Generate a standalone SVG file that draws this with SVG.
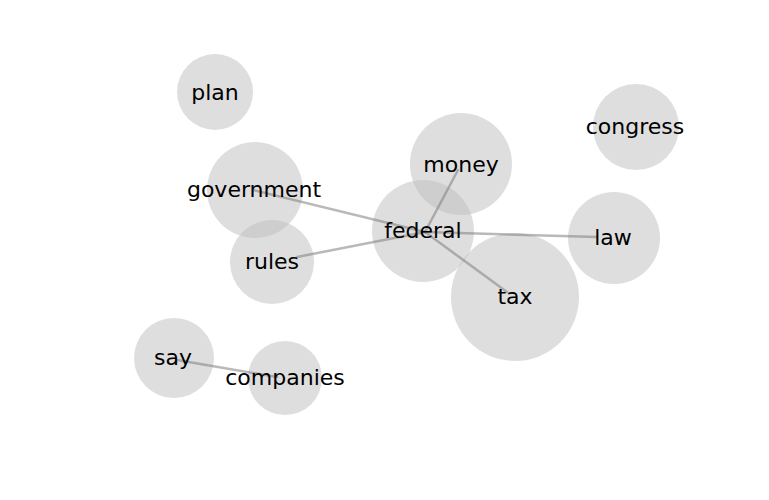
<svg xmlns="http://www.w3.org/2000/svg" width="769" height="500" viewBox="0 0 769 500">
  <style>
    .node circle { fill: #bdbdbd; fill-opacity: 0.5; }
    .node text { font-family: "DejaVu Sans", "Liberation Sans", sans-serif; font-size: 22px; fill: #000; text-anchor: middle; dominant-baseline: central; }
    .edges line { stroke: #808080; stroke-opacity: 0.55; stroke-width: 2.5; stroke-linecap: round; }
  </style>
  <rect width="769" height="500" fill="#ffffff"/>

  <!-- node discs -->
  <g id="plan" class="node"><circle cx="215" cy="92" r="38"/></g>
  <g id="government" class="node"><circle cx="255" cy="190" r="48"/></g>
  <g id="rules" class="node"><circle cx="272" cy="262" r="42"/></g>
  <g id="federal" class="node"><circle cx="423" cy="231" r="51"/></g>
  <g id="money" class="node"><circle cx="461" cy="164" r="51"/></g>
  <g id="congress" class="node"><circle cx="636" cy="127" r="43"/></g>
  <g id="law" class="node"><circle cx="614" cy="238" r="46"/></g>
  <g id="tax" class="node"><circle cx="515" cy="297" r="64"/></g>
  <g id="say" class="node"><circle cx="174" cy="358" r="40"/></g>
  <g id="companies" class="node"><circle cx="285" cy="378" r="37"/></g>

  <!-- connectors -->
  <g id="edges" class="edges">
    <line x1="425" y1="232" x2="253" y2="190"/>
    <line x1="425" y1="232" x2="297" y2="257"/>
    <line x1="425" y1="232" x2="458" y2="170"/>
    <line x1="425" y1="232" x2="597" y2="237"/>
    <line x1="425" y1="232" x2="507" y2="292"/>
    <line x1="177" y1="360" x2="277" y2="377"/>
  </g>

  <!-- labels -->
  <g class="node">
    <text x="215" y="92">plan</text>
    <text x="254" y="189">government</text>
    <text x="272" y="261">rules</text>
    <text x="423" y="230">federal</text>
    <text x="461" y="164">money</text>
    <text x="635" y="126">congress</text>
    <text x="613" y="237">law</text>
    <text x="515" y="296">tax</text>
    <text x="173" y="357">say</text>
    <text x="285" y="377">companies</text>
  </g>
</svg>
